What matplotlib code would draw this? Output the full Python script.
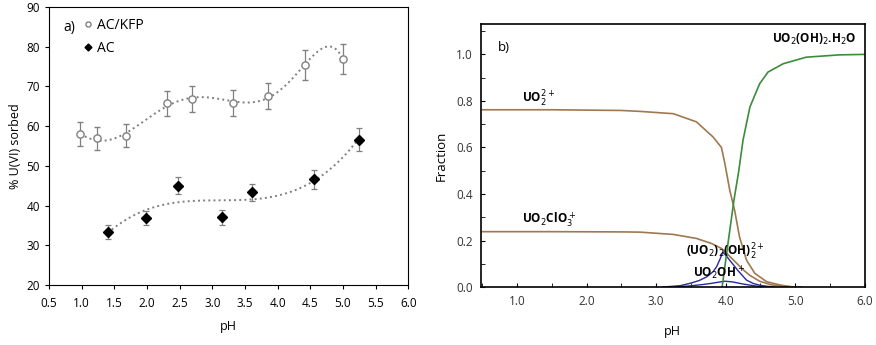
import numpy as np
import matplotlib.pyplot as plt
from matplotlib.ticker import MultipleLocator

# ─── Dades panell a) ──────────────────────────────────────────────────────────
ph_kfp = [0.98, 1.23, 1.68, 2.31, 2.69, 3.32, 3.86, 4.42, 5.00]
u_kfp = [57.9, 56.9, 57.6, 65.7, 66.9, 65.9, 67.5, 75.4, 76.9]
err_kfp = [3.0, 2.8, 2.9, 3.2, 3.3, 3.3, 3.3, 3.8, 3.8]

ph_ac = [1.40, 1.98, 2.48, 3.15, 3.61, 4.56, 5.24]
u_ac = [33.3, 36.9, 45.0, 37.0, 43.3, 46.6, 56.6]
err_ac = [1.7, 1.8, 2.2, 1.9, 2.1, 2.4, 2.8]

# ─── Dades panell b) (llegides de la figura) ─────────────────────────────────
ph_uo2 = [0.5, 1.5, 2.5, 2.77, 3.25, 3.58, 3.82, 3.94, 3.99, 4.06, 4.13,
          4.20, 4.30, 4.42, 4.59, 4.78, 4.95, 5.1]
fr_uo2 = [0.762, 0.762, 0.759, 0.755, 0.745, 0.71, 0.645, 0.60, 0.53, 0.416,
          0.33, 0.216, 0.116, 0.059, 0.023, 0.009, 0.001, 0.0]

ph_clo3 = [0.5, 1.5, 2.5, 2.77, 3.25, 3.58, 3.80, 3.94, 4.05, 4.15, 4.25,
           4.35, 4.49, 4.65, 4.82, 5.0]
fr_clo3 = [0.238, 0.238, 0.237, 0.236, 0.226, 0.209, 0.187, 0.166, 0.135,
           0.105, 0.075, 0.05, 0.025, 0.01, 0.003, 0.0]

ph_sol = [3.95, 4.04, 4.12, 4.19, 4.25, 4.35, 4.49, 4.61, 4.83, 5.16, 5.64, 6.0]
fr_sol = [0.0, 0.20, 0.373, 0.50, 0.63, 0.774, 0.874, 0.924, 0.96, 0.988,
          0.998, 1.0]

ph_dim = [3.1, 3.35, 3.49, 3.62, 3.73, 3.82, 3.87, 3.92, 3.96, 4.02, 4.10,
          4.18, 4.30, 4.40, 4.49, 4.60, 4.70]
fr_dim = [0.0, 0.006, 0.016, 0.028, 0.044, 0.066, 0.087, 0.12, 0.15, 0.13,
          0.10, 0.07, 0.03, 0.015, 0.008, 0.003, 0.0]

ph_oh = [3.2, 3.45, 3.65, 3.8, 3.9, 3.99, 4.1, 4.25, 4.44, 4.6]
fr_oh = [0.0, 0.004, 0.01, 0.016, 0.021, 0.025, 0.022, 0.013, 0.004, 0.0]

GREY = "#808080"
BROWN = "#A07850"
GREEN = "#3C8C3C"
BLUE = "#2828A0"

plt.rcParams["font.family"] = ["Open Sans", "DejaVu Sans"]

fig = plt.figure(figsize=(8.76, 3.45), dpi=100)

# ─── Panell a) ───────────────────────────────────────────────────────────────
ax = fig.add_axes([0.056, 0.174, 0.41, 0.806])

# línies de tendència polinòmiques (estil Excel)
for x, y, deg in [(ph_kfp, u_kfp, 6), (ph_ac, u_ac, 3)]:
    c = np.polyfit(x, y, deg)
    xs = np.linspace(min(x), max(x), 200)
    ax.plot(xs, np.polyval(c, xs), ls=":", color=GREY, lw=1.4, zorder=2)

eb1 = ax.errorbar(ph_kfp, u_kfp, yerr=err_kfp, fmt="o", ms=5.2,
                  mfc="white", mec=GREY, mew=1.0, ecolor=GREY, elinewidth=0.9,
                  capsize=2.5, capthick=0.9, zorder=3)
eb2 = ax.errorbar(ph_ac, u_ac, yerr=err_ac, fmt="D", ms=5, color="black",
                  ecolor=GREY, elinewidth=0.9, capsize=2.5, capthick=0.9,
                  zorder=3)

ax.legend([eb1[0], eb2[0]], ["AC/KFP", "AC"], loc="upper left",
          bbox_to_anchor=(0.055, 1.005), frameon=False, fontsize=10,
          handletextpad=0.1, handlelength=1.0, markerscale=0.7,
          labelspacing=0.6)
ax.text(0.04, 0.925, "a)", transform=ax.transAxes, fontsize=10,
        ha="left", va="center")

ax.set_xlim(0.5, 6.0)
ax.set_ylim(20, 90)
ax.xaxis.set_major_locator(MultipleLocator(0.5))
ax.yaxis.set_major_locator(MultipleLocator(10))
ax.xaxis.set_major_formatter(lambda v, p: f"{v:.1f}")
ax.tick_params(labelsize=8.5, length=3, direction="out")
ax.tick_params(axis="x", pad=6)
ax.set_xlabel("pH", fontsize=9, labelpad=7)
ax.set_ylabel("% U(VI) sorbed", fontsize=9, labelpad=3)

# ─── Panell b) ───────────────────────────────────────────────────────────────
bx = fig.add_axes([0.549, 0.168, 0.438, 0.762])

bx.plot(ph_uo2, fr_uo2, color=BROWN, lw=1.2)
bx.plot(ph_clo3, fr_clo3, color=BROWN, lw=1.2)
bx.plot(ph_dim, fr_dim, color=BLUE, lw=1.0)
bx.plot(ph_oh, fr_oh, color=BLUE, lw=1.0)
bx.plot(ph_sol, fr_sol, color=GREEN, lw=1.2)

lab = dict(fontsize=8.5, fontweight="bold", ha="left", va="center")
bx.text(0.73, 1.03, "b)", fontsize=9.5, ha="left", va="center")
bx.text(5.88, 1.065, r"UO$_2$(OH)$_2$.H$_2$O", ha="right", va="center",
        fontsize=8.5, fontweight="bold")
bx.text(1.07, 0.81, r"UO$_2^{2+}$", **lab)
bx.text(1.07, 0.29, r"UO$_2$ClO$_3^+$", **lab)
bx.text(3.43, 0.15, r"(UO$_2$)$_2$(OH)$_2^{2+}$", **lab)
bx.text(3.53, 0.06, r"UO$_2$OH$^+$", **lab)

bx.set_xlim(0.48, 6.0)
bx.set_ylim(0, 1.13)
bx.xaxis.set_major_locator(MultipleLocator(1.0))
bx.xaxis.set_minor_locator(MultipleLocator(0.5))
bx.yaxis.set_major_locator(MultipleLocator(0.2))
bx.yaxis.set_minor_locator(MultipleLocator(0.1))
bx.xaxis.set_major_formatter(lambda v, p: f"{v:.1f}")
bx.yaxis.set_major_formatter(lambda v, p: f"{v:.1f}")
bx.tick_params(which="both", direction="in", length=3, labelsize=8.5,
               labelcolor="#333333", pad=6)
for s in bx.spines.values():
    s.set_linewidth(1.2)
bx.set_xlabel("pH", fontsize=9, labelpad=12)
bx.set_ylabel("Fraction", fontsize=9.5, labelpad=6)

fig.savefig("out.png", dpi=100)
